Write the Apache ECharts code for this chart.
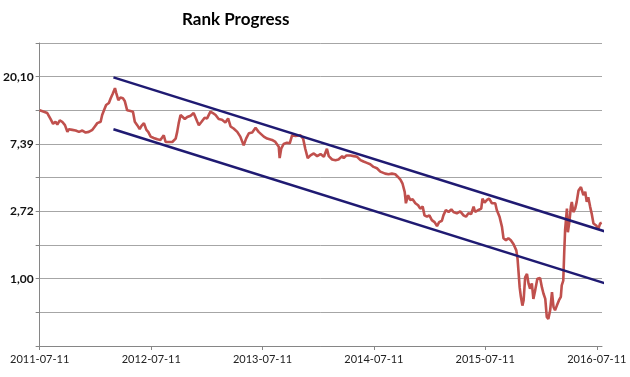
<!DOCTYPE html>
<html><head><meta charset="utf-8">
<script src="https://cdn.jsdelivr.net/npm/echarts@6/dist/echarts.min.js"></script>
<style>html,body{margin:0;padding:0;background:#fff}#c{width:630px;height:377px}</style>
</head><body><div id="c"></div>
<script>
// ---- data (y values are natural-log of rank) ----
const startDate = '2011-07-11';
const xMaxDate = '2016-07-28';
const dayOffsets = [
0,14,25,36,44,52,58,66,74,83,91,96,107,118,129,140,151,161,173,181,189,200,205,211,218,227,233,240,247,251,258,265,273,279,287,298,306,312,320,328,334,342,350,
356,364,374,386,396,407,413,424,435,446,451,456,462,469,476,484,495,505,517,522,531,541,549,560,568,577,587,598,609,618,626,636,648,658,669,677,686,697,708,718,735,
746,762,773,784,787,792,800,811,820,828,839,855,864,871,879,888,899,910,921,932,942,948,959,970,980,992,997,1006,1019,1030,1041,1052,1062,1073,1084,1095,1106,1117,
1123,1133,1144,1155,1166,1175,1183,1190,1197,1201,1208,1215,1223,1232,1241,1248,1256,1262,1270,1278,1286,1295,1303,1310,1319,1324,1332,1341,1350,1357,1368,1379,1390,1398,1406,1415,1423,1428,1439,1448,1452,1459,1467,1474,1483,
1494,1499,1508,1516,1521,1529,1537,1545,1554,1563,1567,1570,1574,1578,1583,1587,1592,1598,1603,1608,1614,1619,1625,1632,1641,1647,1652,1658,1663,1668,1674,1680,1685,1690,1696,1703,1709,1712,1717,1720,1723,1729,1732,1737,1742,1745,1750,1756,1761,1767,1775,1783,1789,1794,1799,1805,1810,1816,1825,1832,1838,1843
];
const logRank = [
2.50,2.48,2.46,2.37,2.30,2.33,2.29,2.35,2.33,2.28,2.18,2.22,2.21,2.20,2.18,2.20,2.17,2.18,2.21,2.26,2.31,2.33,2.43,2.50,2.58,2.61,2.68,2.75,2.83,2.76,2.65,2.69,2.68,2.64,2.50,2.49,2.48,2.33,2.28,2.22,2.27,2.31,2.21,
2.18,2.11,2.09,2.07,2.06,2.13,2.03,2.03,2.03,2.08,2.18,2.31,2.43,2.40,2.37,2.40,2.42,2.46,2.33,2.28,2.33,2.39,2.38,2.48,2.46,2.43,2.37,2.36,2.32,2.38,2.26,2.23,2.18,2.11,1.98,2.08,2.16,2.17,2.24,2.18,2.11,
2.08,2.06,2.03,1.96,1.79,1.93,2.00,2.02,2.01,2.13,2.12,2.13,2.08,1.93,1.79,1.83,1.86,1.82,1.85,1.81,1.93,1.82,1.77,1.76,1.77,1.82,1.79,1.83,1.83,1.82,1.81,1.76,1.74,1.72,1.70,1.66,1.64,1.59,
1.57,1.56,1.55,1.56,1.55,1.51,1.47,1.41,1.29,1.12,1.24,1.17,1.18,1.12,1.09,1.04,1.07,0.94,0.92,0.94,0.87,0.84,0.78,0.84,0.86,0.94,1.02,0.99,1.03,0.99,0.97,1.00,0.94,0.92,0.97,0.96,1.07,0.99,1.02,1.04,1.19,1.13,1.17,1.19,1.12,
1.12,1.02,0.92,0.77,0.60,0.57,0.60,0.57,0.51,0.42,0.30,0.12,-0.13,-0.27,-0.40,-0.32,0.02,0.07,-0.07,-0.15,-0.07,-0.30,-0.17,0.00,0.01,-0.13,-0.22,-0.30,-0.57,-0.60,-0.47,-0.20,-0.42,-0.47,-0.40,-0.32,-0.27,-0.10,-0.03,0.37,0.72,1.04,0.69,0.84,1.07,1.14,0.99,1.04,1.14,1.31,1.36,1.24,1.29,1.14,1.21,1.07,0.97,0.82,0.79,0.74,0.82,0.83
];
const trendDays = [242, 1876];
const upperTrend = [2.99, 0.67];
const lowerTrend = [2.22, -0.10];
const xTickDates = ['2011-07-11','2012-07-11','2013-07-11','2014-07-11','2015-07-11','2016-07-11'];
const yTickValues = [0, 1, 2, 3];
const yTickLabels = ['1,00', '2,72', '7,39', '20,10'];

// ---- helpers ----
const DAY = 86400000;
function utc(s) { const p = s.split('-').map(Number); return Date.UTC(p[0], p[1] - 1, p[2]); }
function pad(n) { return (n < 10 ? '0' : '') + n; }
const t0 = utc(startDate);
function dayOf(s) { return Math.round((utc(s) - t0) / DAY); }
function fmtDay(d) {
  const dt = new Date(t0 + Math.round(d) * DAY);
  return dt.getUTCFullYear() + '-' + pad(dt.getUTCMonth() + 1) + '-' + pad(dt.getUTCDate());
}
const rankData = dayOffsets.map((d, i) => [d, logRank[i]]);
const upperData = trendDays.map((d, i) => [d, upperTrend[i]]);
const lowerData = trendDays.map((d, i) => [d, lowerTrend[i]]);
const xTicks = xTickDates.map(dayOf);

const chart = echarts.init(document.getElementById('c'), null, {renderer: 'canvas'});
chart.setOption({
  animation: false,
  backgroundColor: '#ffffff',
  title: {
    text: 'Rank Progress',
    left: 177, top: 6,
    textStyle: {fontFamily: 'Lato', fontWeight: 'bold', fontSize: 17, color: '#000'}
  },
  grid: {left: 39, right: 28, top: 43, bottom: 31, containLabel: false},
  xAxis: {
    type: 'value',
    min: 0,
    max: dayOf(xMaxDate),
    axisLine: {show: true, onZero: false, lineStyle: {color: '#868686', width: 1}},
    axisTick: {show: true, length: 4, lineStyle: {color: '#868686'}, customValues: xTicks},
    axisLabel: {
      customValues: xTicks,
      formatter: v => fmtDay(v),
      fontFamily: 'Lato', fontSize: 11, color: '#222', margin: 8,
      showMinLabel: true, showMaxLabel: true, hideOverlap: false
    },
    splitLine: {show: false}
  },
  yAxis: {
    type: 'value',
    min: -1, max: 3.5, interval: 0.5,
    axisLine: {show: true, lineStyle: {color: '#868686', width: 1}},
    axisTick: {show: true, length: 4, lineStyle: {color: '#868686'}},
    axisLabel: {
      formatter: v => {
        const i = yTickValues.indexOf(Math.round(v * 100) / 100);
        return i >= 0 ? yTickLabels[i] : '';
      },
      fontFamily: 'Lato', fontSize: 12, fontWeight: 'bold', color: '#111', margin: 6
    },
    splitLine: {show: true, lineStyle: {color: '#a6a6a6', width: 1}}
  },
  series: [
    {type: 'line', data: rankData, symbol: 'none', showSymbol: false,
     lineStyle: {color: '#C0504D', width: 2.6}, z: 2},
    {type: 'line', data: upperData, symbol: 'none', showSymbol: false, clip: false,
     lineStyle: {color: '#1F1A72', width: 2.5}, z: 3},
    {type: 'line', data: lowerData, symbol: 'none', showSymbol: false, clip: false,
     lineStyle: {color: '#1F1A72', width: 2.5}, z: 3}
  ]
});
</script>
</body></html>
